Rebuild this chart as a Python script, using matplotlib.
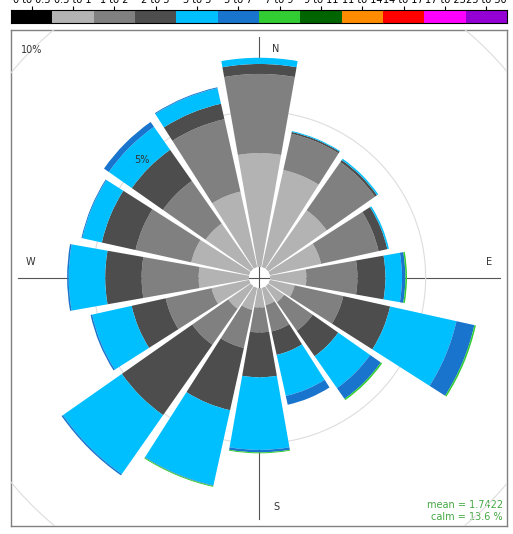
import numpy as np
import matplotlib.pyplot as plt

# wind direction sectors (degrees clockwise from north)
wind_dir = np.arange(0, 360, 22.5)

speed_labels = ['0 to 0.5', '0.5 to 1', '1 to 2', '2 to 3', '3 to 5', '5 to 7',
                '7 to 9', '9 to 11', '11 to 14', '14 to 17', '17 to 23', '23 to 30']
speed_cols = ['#000000', '#b3b3b3', '#808080', '#4d4d4d', '#00bfff', '#1874cd',
              '#32cd32', '#006400', '#ff8c00', '#ff0000', '#ff00ff', '#9400d3']

# frequency (%) of each speed class by sector, N -> NNW
ws_0_05 = [0, 0, 0, 0, 0, 0, 0, 0, 0, 0, 0, 0, 0, 0, 0, 0]
ws_05_1 = [3.66, 3.20, 2.30, 1.69, 1.17, 0.82, 0.63, 0.57,
           0.63, 0.73, 0.89, 1.24, 1.62, 1.91, 1.78, 2.49]
ws_1_2 = [2.54, 1.19, 1.89, 1.89, 1.64, 1.60, 1.12, 0.87,
          0.80, 1.25, 1.41, 1.51, 1.83, 1.83, 1.67, 2.38]
ws_2_3 = [0.32, 0.06, 0.08, 0.29, 0.90, 1.54, 1.00, 0.77,
          1.44, 2.05, 2.76, 1.12, 1.17, 1.11, 1.22, 0.51]
ws_3_5 = [0.20, 0.03, 0.05, 0.05, 0.53, 2.18, 1.25, 1.35,
          2.33, 2.47, 2.31, 1.30, 1.17, 0.64, 0.90, 0.51]
ws_5_7 = [0, 0, 0, 0, 0.11, 0.59, 0.42, 0.29,
          0.08, 0.02, 0.05, 0.05, 0.05, 0.03, 0.19, 0.03]
ws_7_9 = [0, 0, 0, 0, 0.05, 0.05, 0.05, 0, 0.03, 0.03, 0, 0, 0, 0, 0, 0]
ws_9_11 = [0] * 16
ws_11_14 = [0] * 16
ws_14_17 = [0] * 16
ws_17_23 = [0] * 16
ws_23_30 = [0] * 16

mean_ws = 1.7422
calm_pct = 13.6
rings = [5, 10]

freqs = np.array([ws_0_05, ws_05_1, ws_1_2, ws_2_3, ws_3_5, ws_5_7, ws_7_9,
                  ws_9_11, ws_11_14, ws_14_17, ws_17_23, ws_23_30])

W, H = 513, 534
fig = plt.figure(figsize=(W / 100, H / 100), dpi=100)

# panel frame, units in pixels with the rose centre at 0,0
frame = fig.add_axes([11 / W, 8 / H, 496 / W, 496 / H])
frame.set_xlim(-248.5, 247.5)
frame.set_ylim(-248.5, 247.5)
frame.set_xticks([])
frame.set_yticks([])
for s in frame.spines.values():
    s.set_color('#808080')
    s.set_linewidth(1)

frame.plot([-241.5, 241], [0, 0], color='#555555', lw=0.8, zorder=1)
frame.plot([0, 0], [-241, 241], color='#555555', lw=0.8, zorder=1)
for lab, x, y in [('N', 16.5, 228.5), ('S', 16.5, -229.5),
                  ('W', -229.5, 15.5), ('E', 229.5, 15.5)]:
    frame.text(x, y, lab, ha='center', va='center', fontsize=7, color='#333333')
frame.text(243.5, -227.8, f'mean = {mean_ws}', ha='right', va='center',
           fontsize=7, color='#44a844')
frame.text(243.5, -239.5, f'calm = {calm_pct} %', ha='right', va='center',
           fontsize=7, color='#44a844')

# the rose itself
R = 340
ax = fig.add_axes([(259.5 - R) / W, (256.5 - R) / H, 2 * R / W, 2 * R / H],
                  projection='polar')
ax.set_theta_zero_location('N')
ax.set_theta_direction(-1)
ax.set_rorigin(-0.334)
ax.set_ylim(0, 10.58)
ax.set_axis_off()

circ = np.linspace(0, 2 * np.pi, 721)
for r in rings:
    ln, = ax.plot(circ, np.full_like(circ, r), color='#dddddd', lw=0.8, zorder=0)
    ln.set_clip_path(frame.patch)
    ax.text(np.radians(315), r, f'{r}%', ha='center', va='center',
            fontsize=7, color='#333333', zorder=5)

theta = np.radians(wind_dir)
bottom = np.zeros(len(wind_dir))
for k in range(len(freqs)):
    ax.bar(theta, freqs[k], width=np.radians(20), bottom=bottom,
           color=speed_cols[k], edgecolor='none', linewidth=0, zorder=2)
    bottom += freqs[k]

# colour key across the top
key = fig.add_axes([11 / W, (H - 23.3) / H, 496 / W, 13.3 / H])
key.bar(np.arange(12), 1, width=1, color=speed_cols, edgecolor='none')
key.set_xlim(-0.5, 11.5)
key.set_ylim(0, 1)
key.xaxis.tick_top()
key.set_xticks(np.arange(12), speed_labels)
key.tick_params(axis='x', length=3, width=0.8, pad=0.5, labelsize=7)
key.set_yticks([])
for s in key.spines.values():
    s.set_linewidth(0.8)

fig.savefig('out.png', dpi=100)
